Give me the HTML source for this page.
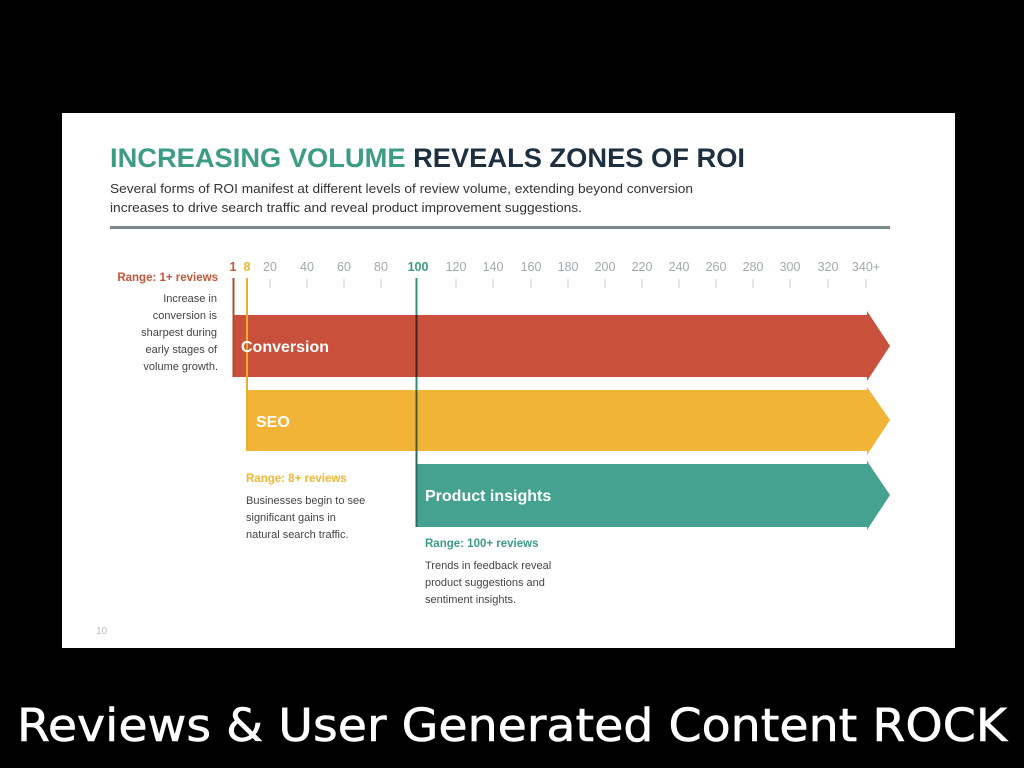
<!DOCTYPE html>
<html><head><meta charset="utf-8"><style>
html,body{margin:0;padding:0;background:#000;width:1024px;height:768px;overflow:hidden}
svg{display:block}
</style></head><body>
<svg width="1024" height="768" viewBox="0 0 1024 768" xmlns="http://www.w3.org/2000/svg" font-family="Liberation Sans, sans-serif">
<rect x="0" y="0" width="1024" height="768" fill="#000"/>
<rect x="62" y="113" width="893" height="535" fill="#fff"/>
<text x="110" y="167" font-size="27" font-weight="bold" textLength="635" lengthAdjust="spacingAndGlyphs"><tspan fill="#3c9c85">INCREASING VOLUME </tspan><tspan fill="#1e3040">REVEALS ZONES OF ROI</tspan></text>
<text x="110" y="193" font-size="12.5" fill="#333" textLength="583" lengthAdjust="spacingAndGlyphs">Several forms of ROI manifest at different levels of review volume, extending beyond conversion</text>
<text x="110" y="212" font-size="12.5" fill="#333" textLength="472" lengthAdjust="spacingAndGlyphs">increases to drive search traffic and reveal product improvement suggestions.</text>
<rect x="110" y="226" width="780" height="3" fill="#7a8a8a"/>
<g font-size="12.5" fill="#a2a9ad" text-anchor="middle">
<text x="233" y="271" fill="#c0553a" font-weight="bold">1</text>
<text x="247" y="271" fill="#f0b630" font-weight="bold">8</text>
<text x="270" y="271">20</text><text x="307" y="271">40</text><text x="344" y="271">60</text><text x="381" y="271">80</text>
<text x="418" y="271" fill="#3c9c85" font-weight="bold">100</text>
<text x="456" y="271">120</text><text x="493" y="271">140</text><text x="531" y="271">160</text><text x="568" y="271">180</text><text x="605" y="271">200</text><text x="642" y="271">220</text><text x="679" y="271">240</text><text x="716" y="271">260</text><text x="753" y="271">280</text><text x="790" y="271">300</text><text x="828" y="271">320</text><text x="866" y="271">340+</text>
</g>
<g stroke="#d0d4d6" stroke-width="1.2">
<line x1="270" y1="279" x2="270" y2="288"/><line x1="307" y1="279" x2="307" y2="288"/><line x1="344" y1="279" x2="344" y2="288"/><line x1="381" y1="279" x2="381" y2="288"/>
<line x1="456" y1="279" x2="456" y2="288"/><line x1="493" y1="279" x2="493" y2="288"/><line x1="531" y1="279" x2="531" y2="288"/><line x1="568" y1="279" x2="568" y2="288"/><line x1="605" y1="279" x2="605" y2="288"/><line x1="642" y1="279" x2="642" y2="288"/><line x1="679" y1="279" x2="679" y2="288"/><line x1="716" y1="279" x2="716" y2="288"/><line x1="753" y1="279" x2="753" y2="288"/><line x1="790" y1="279" x2="790" y2="288"/><line x1="828" y1="279" x2="828" y2="288"/><line x1="866" y1="279" x2="866" y2="288"/>
</g>
<polygon points="233,315 867,315 867,311 890,346 867,381 867,377 233,377" fill="#c9503a"/>
<polygon points="247,390 867,390 867,387 890,420 867,455 867,451 247,451" fill="#f1b436"/>
<polygon points="416,464 867,464 867,461 890,495 867,530 867,527 416,527" fill="#45a290"/>
<line x1="233.5" y1="278" x2="233.5" y2="377" stroke="#b04a35" stroke-width="2"/>
<line x1="247" y1="278" x2="247" y2="451" stroke="#e8ad2c" stroke-width="2"/>
<line x1="416.5" y1="278" x2="416.5" y2="315" stroke="#2f8f7b" stroke-width="2"/>
<line x1="416.5" y1="315" x2="416.5" y2="377" stroke="#3a2a22" stroke-width="2"/>
<line x1="416.5" y1="377" x2="416.5" y2="390" stroke="#2f8f7b" stroke-width="2"/>
<line x1="416.5" y1="390" x2="416.5" y2="451" stroke="#4a5a30" stroke-width="2"/>
<line x1="416.5" y1="451" x2="416.5" y2="527" stroke="#2a6e60" stroke-width="2"/>
<text x="241" y="352" font-size="16" font-weight="bold" fill="#fff">Conversion</text>
<text x="256" y="427" font-size="16" font-weight="bold" fill="#fff">SEO</text>
<text x="425" y="501" font-size="16" font-weight="bold" fill="#fff">Product insights</text>
<text x="218" y="281" font-size="11.5" font-weight="bold" fill="#c0553a" text-anchor="end">Range: 1+ reviews</text>
<g font-size="11" fill="#444" text-anchor="end">
<text x="217" y="302">Increase in</text>
<text x="217" y="319">conversion is</text>
<text x="217" y="336">sharpest during</text>
<text x="217" y="353">early stages of</text>
<text x="218" y="370">volume growth.</text>
</g>
<text x="246" y="482" font-size="11.5" font-weight="bold" fill="#f0b630">Range: 8+ reviews</text>
<g font-size="11" fill="#444">
<text x="246" y="504">Businesses begin to see</text>
<text x="246" y="521">significant gains in</text>
<text x="246" y="538">natural search traffic.</text>
</g>
<text x="425" y="547" font-size="11.5" font-weight="bold" fill="#3c9c85">Range: 100+ reviews</text>
<g font-size="11" fill="#444">
<text x="425" y="569">Trends in feedback reveal</text>
<text x="425" y="586">product suggestions and</text>
<text x="425" y="603">sentiment insights.</text>
</g>
<text x="96" y="634" font-size="10" fill="#bbb">10</text>
<text x="512" y="741" font-size="45" fill="#fff" stroke="#fff" stroke-width="0.6" text-anchor="middle" textLength="990" lengthAdjust="spacingAndGlyphs" font-family="DejaVu Sans, sans-serif">Reviews &amp; User Generated Content ROCK</text>
</svg>
</body></html>
